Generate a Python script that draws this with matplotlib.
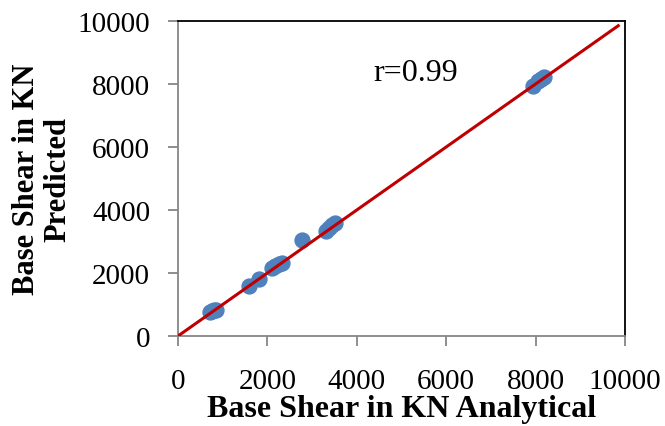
import matplotlib.pyplot as plt
import numpy as np

plt.rcParams['font.family'] = ['Liberation Serif', 'DejaVu Serif']

# data
analytical = [720, 770, 810, 850, 1590, 1820, 2100, 2180, 2250, 2320,
              2780, 3300, 3380, 3450, 3510, 7950, 8050, 8120, 8190]
predicted = [760, 790, 810, 840, 1600, 1820, 2150, 2210, 2270, 2330,
             3040, 3330, 3430, 3520, 3590, 7930, 8080, 8150, 8220]
trend_x = [0, 9850]
trend_y = [0, 9850]
ticks = [0, 2000, 4000, 6000, 8000, 10000]

fig = plt.figure(figsize=(6.65, 4.27), dpi=100)
ax = fig.add_axes([0.2677, 0.2108, 0.6721, 0.7377])

ax.scatter(analytical, predicted, color='#4F81BD', s=115, zorder=2)
ax.plot(trend_x, trend_y, color='#C00000', linewidth=2.2, zorder=3)

ax.set_xlim(0, 10000)
ax.set_ylim(0, 10000)
ax.set_xticks(ticks)
ax.set_yticks(ticks)

gray = '#868686'
ax.spines['left'].set_color(gray)
ax.spines['bottom'].set_color(gray)
ax.spines['top'].set_color('black')
ax.spines['right'].set_color('black')
for s in ax.spines.values():
    s.set_linewidth(1.3)

ax.tick_params(axis='both', direction='out', length=7, width=1.3,
               color=gray, labelsize=21)
ax.tick_params(axis='x', pad=16)
ax.tick_params(axis='y', pad=13)

ax.set_xlabel('Base Shear in KN Analytical', fontsize=23, fontweight='bold',
              labelpad=0)
ax.set_ylabel('Base Shear in KN\nPredicted', fontsize=22, fontweight='bold',
              linespacing=1.1, labelpad=4)

ax.text(5325, 8380, 'r=0.99', fontsize=23, ha='center', va='center')

fig.savefig('out.png', dpi=100)
